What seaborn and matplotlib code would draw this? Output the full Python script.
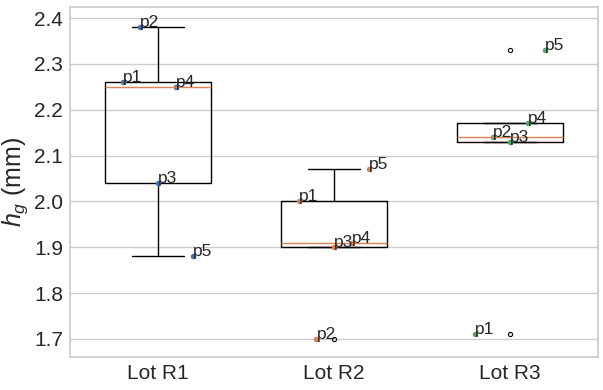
import pandas as pd
import matplotlib
matplotlib.use("Agg")
import matplotlib.pyplot as plt
import seaborn as sns

# ---------------- DATOS ---------------- #
lotes = ["Lot R1", "Lot R2", "Lot R3"]
puntos = ["p1", "p2", "p3", "p4", "p5"]
hg_r1 = [2.26, 2.38, 2.04, 2.25, 1.88]
hg_r2 = [2.00, 1.70, 1.90, 1.91, 2.07]
hg_r3 = [1.71, 2.14, 2.13, 2.17, 2.33]

df = pd.DataFrame({
    "lot": [l for l in lotes for _ in puntos],
    "point": puntos * 3,
    "hg": hg_r1 + hg_r2 + hg_r3,
})

# ---------------- ESTILO ---------------- #
sns.set_theme(style="whitegrid")
plt.rcParams["font.family"] = ["Liberation Sans", "DejaVu Sans"]
plt.rcParams["mathtext.fontset"] = "custom"
plt.rcParams["mathtext.it"] = "Liberation Sans:italic"
plt.rcParams["mathtext.rm"] = "Liberation Sans"
colores = sns.color_palette("deep")

fig, ax = plt.subplots(figsize=(6.03, 3.90), dpi=100)

sns.boxplot(data=df, x="lot", y="hg", width=0.6, fill=False, color="black",
            linewidth=1, whis=1.5, ax=ax,
            medianprops={"color": colores[1], "linewidth": 1},
            flierprops={"marker": "o", "markersize": 3, "markeredgecolor": "black",
                        "markerfacecolor": "none", "markeredgewidth": 0.8})

# puntos individuales con su etiqueta
for i, lot in enumerate(lotes):
    sub = df[df["lot"] == lot].reset_index(drop=True)
    for j, row in sub.iterrows():
        xj = i + (j - 2) * 0.1
        ax.plot(xj, row["hg"], "o", color=colores[i], markersize=3)
        ax.text(xj, row["hg"], row["point"], fontsize=12.5, color="#262626")

ax.set_xlim(-0.5, 2.5)
ax.set_ylim(1.661, 2.424)
ax.set_xlabel("")
ax.set_ylabel("$h_g$ (mm)", fontsize=18, labelpad=3)
ax.tick_params(axis="both", labelsize=15, length=0, pad=5)

plt.subplots_adjust(left=0.116, right=0.992, top=0.982, bottom=0.085)
plt.savefig("out.png")
